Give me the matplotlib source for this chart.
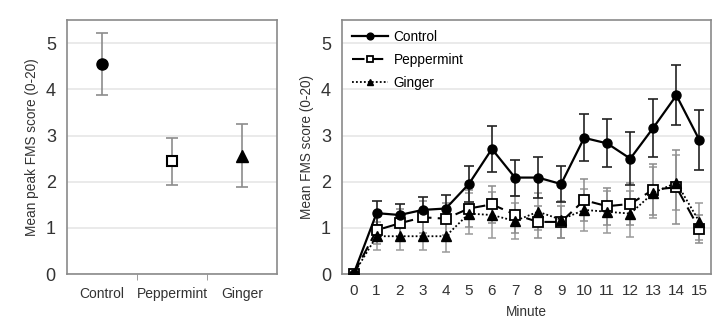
import numpy as np
import matplotlib.pyplot as plt

plt.rcParams['font.family'] = ['Liberation Sans', 'DejaVu Sans']

# peak scores per condition
groups = ['Control', 'Peppermint', 'Ginger']
peak_mean = [4.55, 2.45, 2.55]
peak_lo = [3.88, 1.93, 1.88]
peak_hi = [5.22, 2.95, 3.25]

# per-minute scores
minutes = list(range(16))
control = [0, 1.32, 1.28, 1.39, 1.42, 1.95, 2.71, 2.09, 2.09, 1.95, 2.95, 2.83, 2.50, 3.17, 3.87, 2.90]
control_err = [0, 0.26, 0.24, 0.27, 0.30, 0.38, 0.50, 0.39, 0.44, 0.39, 0.51, 0.52, 0.58, 0.63, 0.65, 0.65]
peppermint = [0, 0.95, 1.10, 1.23, 1.20, 1.42, 1.51, 1.29, 1.13, 1.13, 1.60, 1.47, 1.52, 1.83, 1.88, 0.97]
peppermint_err = [0, 0.30, 0.30, 0.35, 0.35, 0.40, 0.40, 0.40, 0.35, 0.35, 0.45, 0.40, 0.45, 0.55, 0.80, 0.30]
ginger = [0, 0.82, 0.82, 0.82, 0.82, 1.31, 1.28, 1.15, 1.35, 1.18, 1.39, 1.35, 1.31, 1.76, 1.98, 1.13]
ginger_err = [0, 0.30, 0.30, 0.30, 0.35, 0.45, 0.50, 0.40, 0.40, 0.40, 0.45, 0.45, 0.50, 0.55, 0.60, 0.40]

frame_col = '#8a8a8a'
grid_col = '#e6e6e6'
err_col = '#8c8c8c'
text_col = '#333333'


def style_axes(ax):
    ax.set_ylim(0, 5.5)
    ax.set_yticks(range(6))
    ax.grid(axis='y', color=grid_col, lw=1.2)
    ax.set_axisbelow(True)
    for s in ax.spines.values():
        s.set_color(frame_col)
        s.set_linewidth(1.2)
    ax.tick_params(axis='y', length=0, labelsize=13, pad=8, colors=text_col)


fig = plt.figure(figsize=(7.2, 3.24), dpi=100)

# left: mean peak score
ax1 = fig.add_axes([0.093, 0.154, 0.292, 0.784])
style_axes(ax1)
ax1.set_xlim(-0.5, 2.5)
x = np.arange(len(groups))
lo = np.array(peak_mean) - np.array(peak_lo)
hi = np.array(peak_hi) - np.array(peak_mean)
ax1.errorbar(x, peak_mean, yerr=[lo, hi], fmt='none', ecolor=err_col,
             elinewidth=1.2, capsize=4, capthick=1.2, zorder=2)
ax1.plot(x[0], peak_mean[0], 'o', color='black', ms=8, zorder=3)
ax1.plot(x[1], peak_mean[1], 's', mfc='white', mec='black', mew=1.5, ms=7, zorder=3)
ax1.plot(x[2], peak_mean[2], '^', color='black', ms=8, zorder=3)
ax1.set_xticks(x)
ax1.set_xticklabels(groups)
ax1.set_xticks([0.5, 1.5], minor=True)
ax1.tick_params(axis='x', which='major', length=0, labelsize=10, pad=9, colors=text_col)
ax1.tick_params(axis='x', which='minor', length=4, color=frame_col)
ax1.set_ylabel('Mean peak FMS score (0-20)', fontsize=9.8, color=text_col, labelpad=5)

# right: score over time
ax2 = fig.add_axes([0.475, 0.154, 0.5125, 0.784])
style_axes(ax2)
ax2.set_xlim(-0.5, 15.5)
ax2.errorbar(minutes, ginger, yerr=ginger_err, fmt='none', ecolor='#9a9a9a',
             elinewidth=1.1, capsize=3, capthick=1.1, zorder=2)
ax2.errorbar(minutes, peppermint, yerr=peppermint_err, fmt='none', ecolor=err_col,
             elinewidth=1.1, capsize=3, capthick=1.1, zorder=2)
ax2.errorbar(minutes, control, yerr=control_err, fmt='none', ecolor='#222222',
             elinewidth=1.2, capsize=3.5, capthick=1.2, zorder=3)
ax2.plot(minutes, control, '-o', color='black', lw=1.6, ms=6.5, label='Control', zorder=5)
ax2.plot(minutes, peppermint, 's', ls=(0, (6, 3)), color='black', lw=1.5, ms=6.5,
         mfc='white', mec='black', mew=1.3, label='Peppermint', zorder=4)
ax2.plot(minutes, ginger, '^', ls=(0, (1, 1.2)), color='black', lw=1.3, ms=6.5,
         label='Ginger', zorder=4)
ax2.set_xticks(minutes)
ax2.tick_params(axis='x', length=0, labelsize=11, pad=7, colors=text_col)
ax2.set_xlabel('Minute', fontsize=9.8, color=text_col, labelpad=5)
ax2.set_ylabel('Mean FMS score (0-20)', fontsize=9.8, color=text_col, labelpad=5)
ax2.legend(loc='upper left', frameon=False, fontsize=9.8, handlelength=2.7,
           markerscale=0.75, borderaxespad=0.3, labelspacing=0.68, handletextpad=0.4)

fig.savefig('out.png', dpi=100)
